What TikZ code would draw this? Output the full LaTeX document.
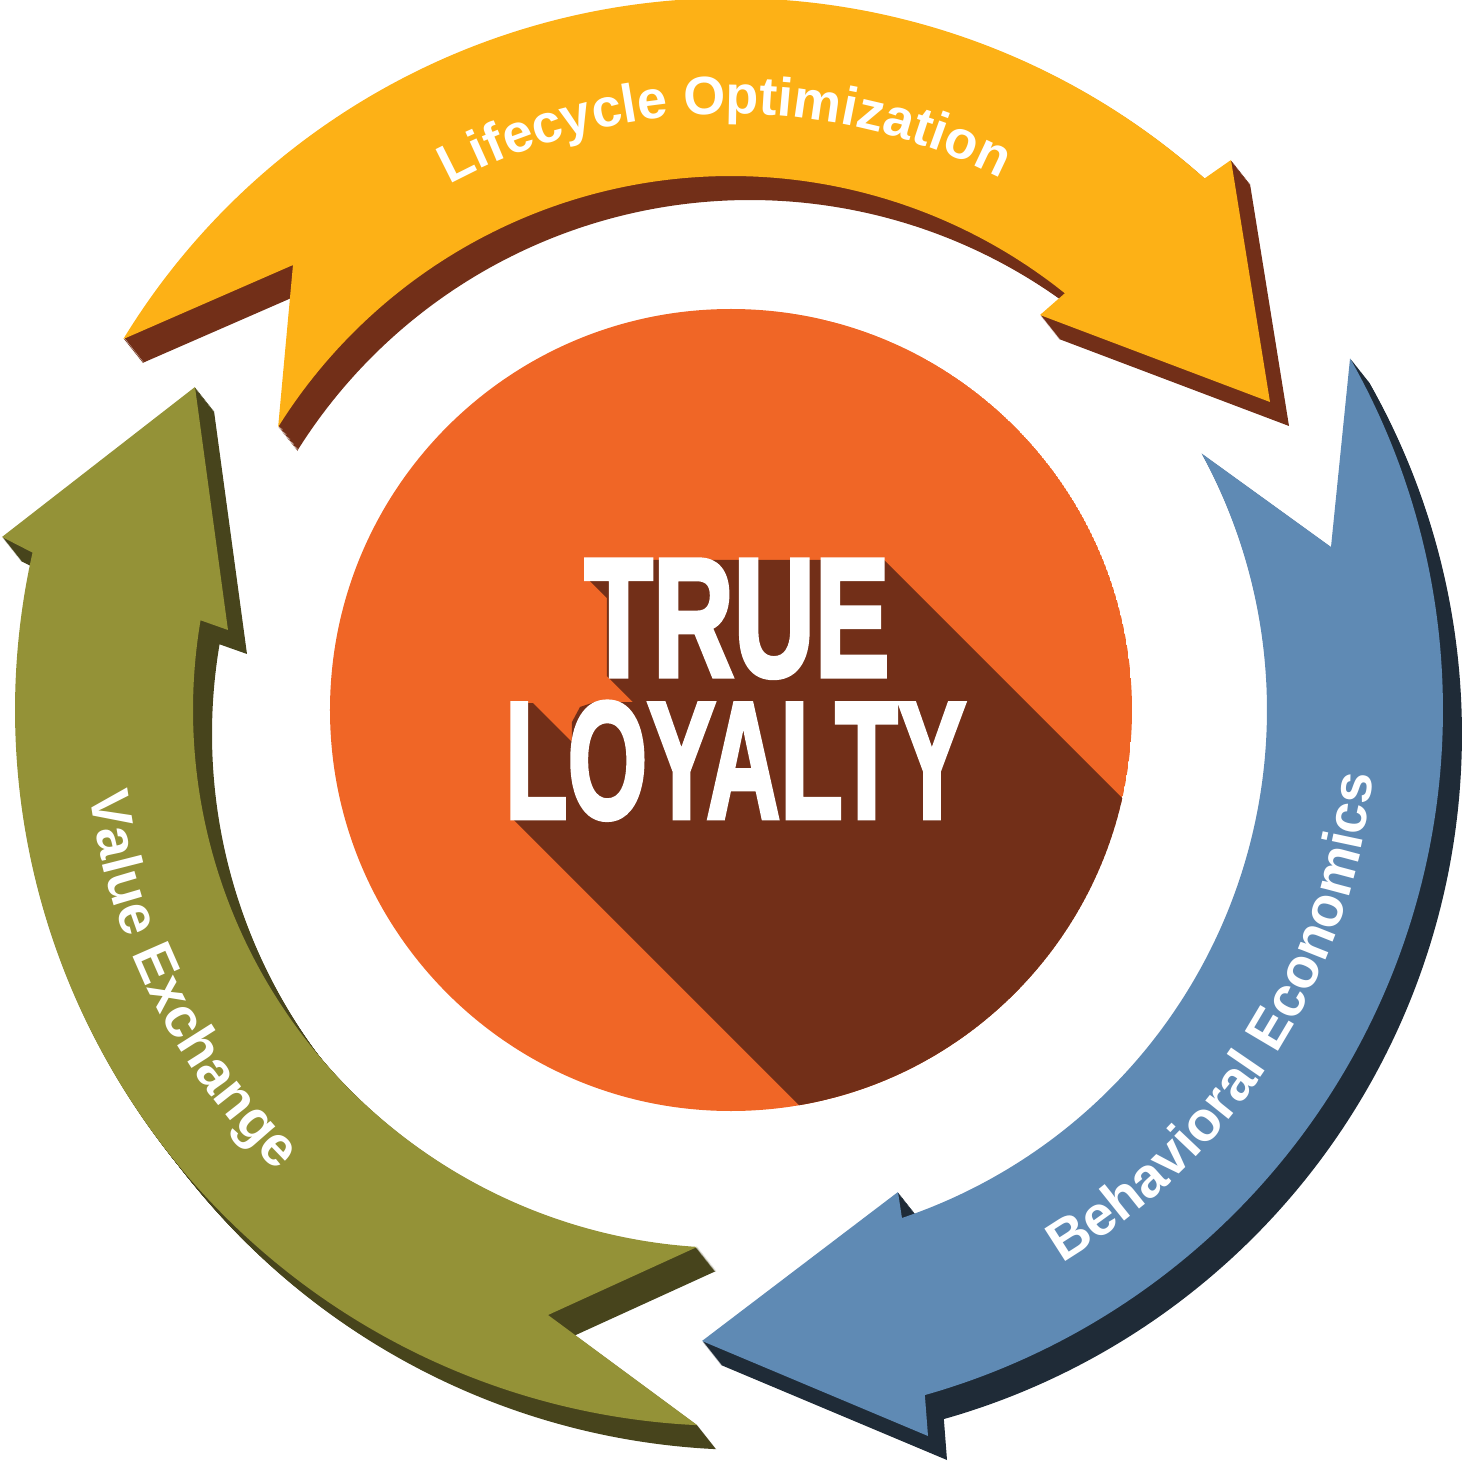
\documentclass[tikz,border=0pt]{standalone}
\usepackage{fontspec}
\setmainfont{Liberation Sans}
\newfontfamily\heavyfont{Liberation Sans}[BoldFeatures={FakeBold=3}]
\usetikzlibrary{decorations.text}
\definecolor{cYel}{RGB}{253,177,22}
\definecolor{cBrn}{RGB}{114,47,24}
\definecolor{cOrg}{RGB}{240,102,38}
\definecolor{cBlu}{RGB}{95,138,180}
\definecolor{cBluD}{RGB}{31,43,55}
\definecolor{cGrn}{RGB}{148,146,55}
\definecolor{cGrnD}{RGB}{71,68,28}
\newcommand\arrowYel[1]{\fill[#1] (148.6:712) arc[start angle=148.6, end angle=48.3, radius=712pt] -- (500,550) -- (539,308) -- (309,395) -- (51.3:534) arc[start angle=51.3, end angle=148.0, radius=534pt] -- (-438,445) -- cycle;}
\newcommand\arrowBlu[1]{\fill[#1] (29.6:712) arc[start angle=29.6, end angle=-74.2, radius=712pt] -- (197,-726) -- (-29,-631) -- (167,-482) -- (-71.4:536) arc[start angle=-71.4, end angle=28.6, radius=536pt] -- (600,163) -- cycle;}
\newcommand\arrowGrn[1]{\fill[#1] (267.3:716) arc[start angle=267.3, end angle=167.3, radius=716pt] -- (-729,173) -- (-536,323) -- (-503,80) -- (170.4:538) arc[start angle=170.4, end angle=266.4, radius=538pt] -- (-183,-605) -- cycle;}
\tikzset{
  bigtxt/.style={anchor=base west, inner sep=0pt, outer sep=0pt, text=white},
  lbl/.style={decorate, decoration={text along path, text align=center, text color=white}}
}
\newcommand\lblfmt{|\bfseries\fontsize{54}{58}\selectfont|}
\newcommand\lblfmtb{|\bfseries\fontsize{56}{60}\selectfont|}
\begin{document}
\begin{tikzpicture}[x=1pt,y=1pt]
\useasboundingbox (-731,-752) rectangle (731,710);
% yellow arrow
\foreach \k in {1,...,24}{\arrowYel{cBrn, shift={({\k*19/24},{-\k})}}}
\arrowYel{cYel}
% blue arrow
\foreach \k in {1,...,24}{\arrowBlu{cBluD, shift={({\k*19/24},{-\k})}}}
\arrowBlu{cBlu}
% green arrow
\foreach \k in {1,...,24}{\arrowGrn{cGrnD, shift={({\k*19/24},{-\k})}}}
\arrowGrn{cGrn}
% centre disc with long shadow
\begin{scope}
\clip (0,0) circle[radius=401pt];
\fill[cOrg] (0,0) circle[radius=401pt];
\fill[cBrn, shift={(-731,710)}, yscale=-1]
  (587,560) -- (884,560) -- (1284,960) -- (912,1218) -- (512,818) -- (512,703)
  -- (533,703) -- (572,742) -- (572,722) -- (580,707) -- (595,702) -- (633,702)
  -- (607,676) -- (607,598) -- (587,578) -- cycle;
\end{scope}
\node[bigtxt] (true) at (-146.5,34) {\resizebox{305pt}{116pt}{\heavyfont\bfseries TRUE}};
\node[bigtxt] (loyalty) at (-226,-108) {\resizebox{461pt}{116pt}{\heavyfont\bfseries LOYALTY}};
% labels
\path[lbl, decoration={text={\lblfmt Lifecycle Optimization}}]
  (130.65:596) arc[start angle=130.65, end angle=50.65, radius=596pt];
\path[lbl, decoration={text={\lblfmtb Behavioral Economics}}]
  (-72.45:645) arc[start angle=-72.45, end angle=7.55, radius=645pt];
\path[lbl, decoration={text={\lblfmtb Value Exchange}}]
  (166.45:647) arc[start angle=166.45, end angle=246.45, radius=647pt];
\end{tikzpicture}
\end{document}
